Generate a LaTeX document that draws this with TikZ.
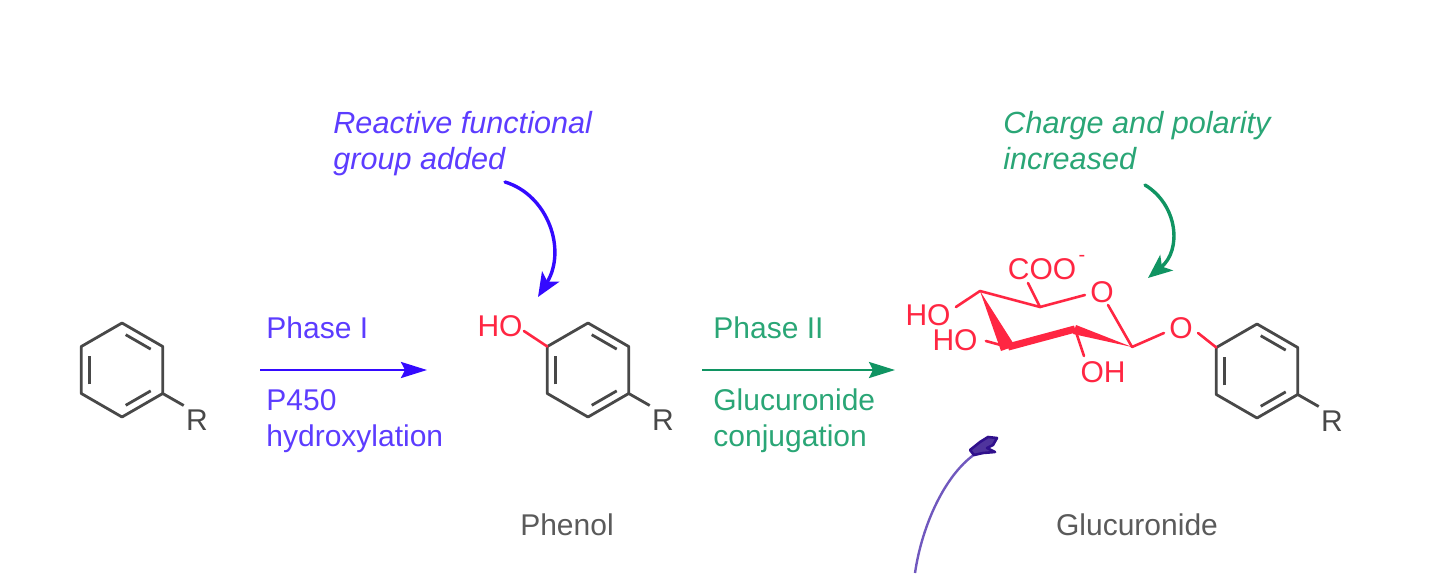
\documentclass[tikz,border=0pt]{standalone}
\usepackage{fontspec}
\setmainfont{Liberation Sans}
\usetikzlibrary{calc, arrows.meta}
\definecolor{phaseone}{RGB}{92, 60, 255}
\definecolor{phaseonedark}{RGB}{52, 10, 255}
\definecolor{phasetwo}{RGB}{42, 166, 118}
\definecolor{phasetwodark}{RGB}{16, 148, 98}
\definecolor{polar}{RGB}{255, 38, 66}
\definecolor{ringgrey}{RGB}{72, 72, 72}
\definecolor{penblue}{RGB}{112, 88, 190}
\definecolor{penblob}{RGB}{48, 16, 140}

\begin{document}
\begin{tikzpicture}[
		x=0.5pt, y=-0.5pt,
		label/.style={inner sep=0pt, font=\fontsize{15}{18}\selectfont, align=left},
		italiclabel/.style={inner sep=0pt, font=\fontsize{15.3}{18}\selectfont\itshape, align=left},
		atom/.style={inner sep=0pt, font=\fontsize{15}{18}\selectfont, text=polar},
		ringbond/.style={draw=ringgrey, line width=1.4pt, line join=round},
		sugarbond/.style={draw=polar, line width=1.3pt, line cap=round, line join=round},
		straightarrow/.style={line width=1.3pt, -{Stealth[length=13pt, width=8pt, inset=2pt]}},
		curvedarrow/.style={line width=1.7pt, line cap=round, -{Stealth[length=12pt, width=10pt, inset=3pt]}}
		]
		\useasboundingbox (0,0) rectangle (1440,573);
		
		% the three rings
		\foreach \r/\x/\y in {ra/122/370, rb/588/370, rc/1257/371}{
			\coordinate (\r) at (\x,\y);
			\draw[ringbond] (\r)+(30:47) -- +(90:47) -- +(150:47) -- +(210:47) -- +(270:47) -- +(330:47) -- cycle;
			\foreach \a in {60,180,300}{
				\draw[ringbond] (\r)+(\a-24:35.5) -- +(\a+24:35.5);
			}
			\coordinate (\r top) at ($(\r)+(210:47)$);
			\coordinate (\r low) at ($(\r)+(30:47)$);
			\node[inner sep=0pt, font=\fontsize{15}{18}\selectfont, text=ringgrey] (\r R) at ($(\r)+(75,50)$) {R};
			\coordinate (\r end) at ($(\r low)+(21,12)$);
			\draw[ringbond] (\r low) -- (\r end);
		}
		
		% phase I
		\node[label, anchor=west, text=phaseone] (p1) at (266,328) {Phase I};
		\node[label, anchor=west, text=phaseone] (p450) at (266,421) {P450\\hydroxylation};
		\coordinate (p1s) at (260,370);
		\coordinate (p1e) at (427,370);
		\draw[straightarrow, phaseonedark] (p1s) -- (p1e);
		\node[italiclabel, anchor=west, text=phaseone] (rf) at (333,144) {Reactive functional\\group added};
		\coordinate (rfs) at (505,182);
		\coordinate (rfe) at (538,297);
		\draw[curvedarrow, phaseonedark] (rfs) .. controls (548,195) and (567,250) .. (rfe);
		
		% phenol
		\node[atom] (ho) at (500,326) {HO};
		\draw[sugarbond] (ho.east)+(1,5) -- (rbtop);
		\node[inner sep=0pt, font=\fontsize{15}{18}\selectfont, text=ringgrey!90] (phenol) at (567,525) {Phenol};
		
		% phase II
		\node[label, anchor=west, text=phasetwo] (p2) at (713,328) {Phase II};
		\node[label, anchor=west, text=phasetwo] (gc) at (713,421) {Glucuronide\\conjugation};
		\coordinate (p2s) at (702,370);
		\coordinate (p2e) at (895,370);
		\draw[straightarrow, phasetwodark] (p2s) -- (p2e);
		\node[italiclabel, anchor=west, text=phasetwo] (cp) at (1003,141) {Charge and polarity\\increased};
		\coordinate (cps) at (1145,185);
		\coordinate (cpe) at (1148,278);
		\draw[curvedarrow, phasetwodark] (cps) .. controls (1178,205) and (1182,250) .. (cpe);
		
		% sugar
		\coordinate (c1) at (1132,347);
		\coordinate (c2) at (1075,329);
		\coordinate (c3) at (1008,347);
		\coordinate (c4) at (980,291);
		\coordinate (c5) at (1040,307);
		\node[atom] (o5) at (1102,292) {O};
		\node[atom] (o1) at (1181,328) {O};
		\node[atom, anchor=center] (coo) at (1042,269) {COO};
		\node[atom, font=\fontsize{10}{12}\selectfont] (minus) at (1082,258) {-};
		\node[atom] (ho4) at (928,315) {HO};
		\node[atom] (ho3) at (955,340) {HO};
		\node[atom] (oh2) at (1103,372) {OH};
		
		\draw[sugarbond] (c4) -- (c5) -- ($(o5.west)+(-5,3)$);
		\draw[sugarbond] ($(o5.south)+(6,2)$) -- (c1) -- ($(o1.west)+(-5,5)$);
		\draw[sugarbond] ($(o1.east)+(5,5)$) -- (rctop);
		\draw[sugarbond] (c5) -- ($(coo.south)+(-14,3)$);
		\draw[sugarbond] (c4) -- ($(ho4.east)+(5,-8)$);
		\draw[sugarbond] (c3) -- ($(ho3.east)+(8,1)$);
		\draw[sugarbond] (c2) -- ($(oh2.north)+(-19,-5)$);
		
		% wedges
		\fill[polar] (c4) -- ($(c3)+(-7,4)$) -- ($(c3)+(7,-1)$) -- cycle;
		\draw[polar, line width=3.6pt, line join=round] (c3) -- (c2);
		\fill[polar] (c1) -- ($(c2)+(1,-4)$) -- ($(c2)+(-2,5)$) -- cycle;
		
		% glucuronide label
		\node[inner sep=0pt, font=\fontsize{15}{18}\selectfont, text=ringgrey!90] (gluc) at (1137,525) {Glucuronide};
		
		% pen stroke at the bottom
		\coordinate (pens) at (915,573);
		\coordinate (pene) at (975,454);
		\draw[penblue, line width=1.2pt] (pens) .. controls (922,525) and (945,475) .. (pene);
		\draw[penblob, line width=1.3pt, fill=penblob, fill opacity=.85, line join=round] (970,450) -- (980,442) -- (988,437) -- (997,438) -- (993,445) -- (987,448) -- (995,452) -- (983,453) -- (974,455) -- cycle;
		
	\end{tikzpicture}
\end{document}
